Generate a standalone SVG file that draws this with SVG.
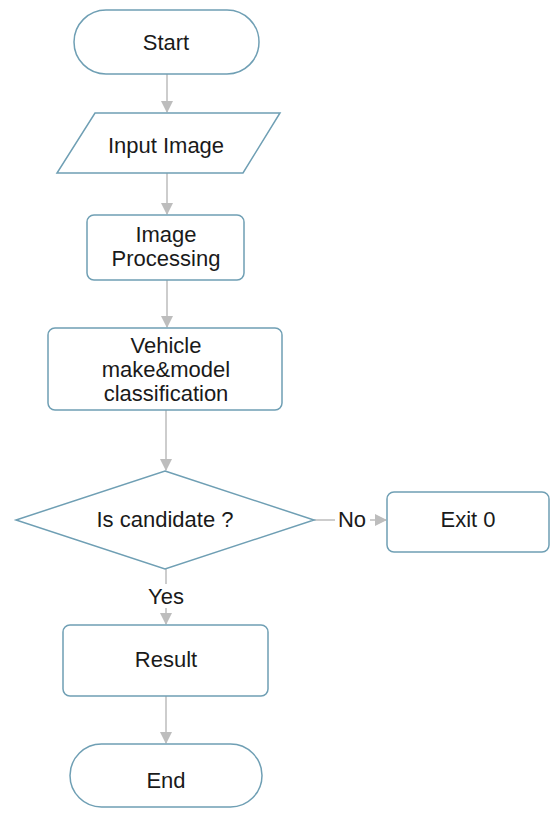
<svg xmlns="http://www.w3.org/2000/svg" width="550" height="817" viewBox="0 0 550 817">
<style>
.n{fill:#fff;stroke:#6f9fb4;stroke-width:1.5}
.t{font-family:"Liberation Sans",Arial,sans-serif;font-size:22px;fill:#1a1a1a;text-anchor:middle}
.c{stroke:#bdbdbd;stroke-width:1.5;fill:none}
</style>
<defs>
<marker id="ah" markerWidth="12" markerHeight="12" refX="11" refY="6" orient="auto" markerUnits="userSpaceOnUse">
<path d="M0,0 L12,6 L0,12 Z" fill="#bdbdbd"/>
</marker>
</defs>
<rect width="550" height="817" fill="#fff"/>
<g id="connectors">
<line class="c" x1="167" y1="74" x2="167" y2="112" marker-end="url(#ah)"/>
<line class="c" x1="167" y1="173" x2="167" y2="214" marker-end="url(#ah)"/>
<line class="c" x1="167" y1="280" x2="167" y2="327" marker-end="url(#ah)"/>
<line class="c" x1="166" y1="410" x2="166" y2="470" marker-end="url(#ah)"/>
<line class="c" x1="314" y1="520" x2="335" y2="520"/>
<line class="c" x1="370" y1="520" x2="386" y2="520" marker-end="url(#ah)"/>
<line class="c" x1="166" y1="569" x2="166" y2="584"/>
<line class="c" x1="166" y1="608" x2="166" y2="624" marker-end="url(#ah)"/>
<line class="c" x1="166" y1="696" x2="166" y2="743" marker-end="url(#ah)"/>
<text class="t" x="352" y="527">No</text>
<text class="t" x="166" y="604">Yes</text>
</g>
<g id="start">
<rect class="n" x="74" y="10" width="185" height="64" rx="32"/>
<text class="t" x="166" y="50">Start</text>
</g>
<g id="input">
<polygon class="n" points="95,113 280,113 243,173 57,173"/>
<text class="t" x="166" y="153">Input Image</text>
</g>
<g id="processing">
<rect class="n" x="87" y="215" width="157" height="65" rx="7"/>
<text class="t" x="166" y="242">Image</text>
<text class="t" x="166" y="266">Processing</text>
</g>
<g id="classification">
<rect class="n" x="48" y="328" width="234" height="82" rx="7"/>
<text class="t" x="166" y="353">Vehicle</text>
<text class="t" x="166" y="377">make&amp;model</text>
<text class="t" x="166" y="401">classification</text>
</g>
<g id="decision">
<polygon class="n" points="165,471 314,520 165,569 16,520"/>
<text class="t" x="165" y="527">Is candidate ?</text>
</g>
<g id="exit">
<rect class="n" x="387" y="492" width="162" height="60" rx="7"/>
<text class="t" x="468" y="527">Exit 0</text>
</g>
<g id="result">
<rect class="n" x="63" y="625" width="205" height="71" rx="7"/>
<text class="t" x="166" y="667">Result</text>
</g>
<g id="end">
<rect class="n" x="70" y="744" width="192" height="63" rx="31.5"/>
<text class="t" x="166" y="788">End</text>
</g>
</svg>
